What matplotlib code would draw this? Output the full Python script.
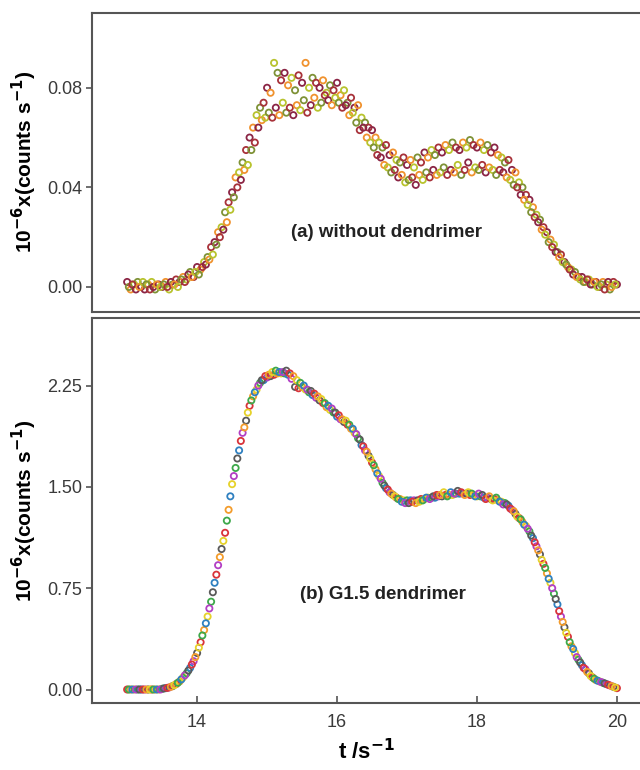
import numpy as np
import matplotlib
matplotlib.use("Agg")
import matplotlib.pyplot as plt

plt.rcParams['font.family'] = ['Liberation Sans', 'DejaVu Sans']

# sampling times (two interleaved runs)
T_RUN1 = [
    13.00, 13.05, 13.10, 13.15, 13.20, 13.25, 13.30, 13.35, 13.40, 13.45,
    13.50, 13.55, 13.60, 13.65, 13.70, 13.75, 13.80, 13.85, 13.90, 13.95,
    14.00, 14.05, 14.10, 14.15, 14.20, 14.25, 14.30, 14.35, 14.40, 14.45,
    14.50, 14.55, 14.60, 14.65, 14.70, 14.75, 14.80, 14.85, 14.90, 14.95,
    15.00, 15.05, 15.10, 15.15, 15.20, 15.25, 15.30, 15.35, 15.40, 15.45,
    15.50, 15.55, 15.60, 15.65, 15.70, 15.75, 15.80, 15.85, 15.90, 15.95,
    16.00, 16.05, 16.10, 16.15, 16.20, 16.25, 16.30, 16.35, 16.40, 16.45,
    16.50, 16.55, 16.60, 16.65, 16.70, 16.75, 16.80, 16.85, 16.90, 16.95,
    17.00, 17.05, 17.10, 17.15, 17.20, 17.25, 17.30, 17.35, 17.40, 17.45,
    17.50, 17.55, 17.60, 17.65, 17.70, 17.75, 17.80, 17.85, 17.90, 17.95,
    18.00, 18.05, 18.10, 18.15, 18.20, 18.25, 18.30, 18.35, 18.40, 18.45,
    18.50, 18.55, 18.60, 18.65, 18.70, 18.75, 18.80, 18.85, 18.90, 18.95,
    19.00, 19.05, 19.10, 19.15, 19.20, 19.25, 19.30, 19.35, 19.40, 19.45,
    19.50, 19.55, 19.60, 19.65, 19.70, 19.75, 19.80, 19.85, 19.90, 19.95,
    20.00,
]
T_RUN2 = [
    13.025, 13.075, 13.125, 13.175, 13.225, 13.275, 13.325, 13.375, 13.425, 13.475,
    13.525, 13.575, 13.625, 13.675, 13.725, 13.775, 13.825, 13.875, 13.925, 13.975,
    14.025, 14.075, 14.125, 14.175, 14.225, 14.275, 14.325, 14.375, 14.425, 14.475,
    14.525, 14.575, 14.625, 14.675, 14.725, 14.775, 14.825, 14.875, 14.925, 14.975,
    15.025, 15.075, 15.125, 15.175, 15.225, 15.275, 15.325, 15.375, 15.425, 15.475,
    15.525, 15.575, 15.625, 15.675, 15.725, 15.775, 15.825, 15.875, 15.925, 15.975,
    16.025, 16.075, 16.125, 16.175, 16.225, 16.275, 16.325, 16.375, 16.425, 16.475,
    16.525, 16.575, 16.625, 16.675, 16.725, 16.775, 16.825, 16.875, 16.925, 16.975,
    17.025, 17.075, 17.125, 17.175, 17.225, 17.275, 17.325, 17.375, 17.425, 17.475,
    17.525, 17.575, 17.625, 17.675, 17.725, 17.775, 17.825, 17.875, 17.925, 17.975,
    18.025, 18.075, 18.125, 18.175, 18.225, 18.275, 18.325, 18.375, 18.425, 18.475,
    18.525, 18.575, 18.625, 18.675, 18.725, 18.775, 18.825, 18.875, 18.925, 18.975,
    19.025, 19.075, 19.125, 19.175, 19.225, 19.275, 19.325, 19.375, 19.425, 19.475,
    19.525, 19.575, 19.625, 19.675, 19.725, 19.775, 19.825, 19.875, 19.925, 19.975,
]

# (a) without dendrimer
A_RUN1 = [
    0.002, -0.001, 0.001, 0.002, 0.000, -0.001, 0.001, 0.002, -0.001, 0.001,
    0.000, 0.002, -0.001, 0.001, 0.003, 0.002, 0.004, 0.003, 0.006, 0.004,
    0.008, 0.007, 0.010, 0.012, 0.016, 0.018, 0.022, 0.024, 0.030, 0.034,
    0.038, 0.044, 0.046, 0.050, 0.055, 0.060, 0.064, 0.069, 0.072, 0.074,
    0.080, 0.078, 0.090, 0.086, 0.083, 0.086, 0.081, 0.084, 0.079, 0.085,
    0.082, 0.090, 0.080, 0.084, 0.082, 0.080, 0.083, 0.078, 0.081, 0.079,
    0.082, 0.077, 0.079, 0.074, 0.076, 0.072, 0.073, 0.068, 0.066, 0.064,
    0.063, 0.060, 0.058, 0.056, 0.057, 0.053, 0.054, 0.051, 0.050, 0.052,
    0.049, 0.051, 0.048, 0.052, 0.050, 0.054, 0.052, 0.055, 0.053, 0.056,
    0.054, 0.057, 0.055, 0.058, 0.056, 0.055, 0.058, 0.056, 0.059, 0.057,
    0.056, 0.058, 0.055, 0.057, 0.054, 0.056, 0.053, 0.052, 0.050, 0.051,
    0.047, 0.046, 0.042, 0.040, 0.037, 0.035, 0.032, 0.029, 0.027, 0.024,
    0.022, 0.019, 0.017, 0.014, 0.013, 0.010, 0.008, 0.007, 0.006, 0.004,
    0.004, 0.002, 0.003, 0.001, 0.002, 0.000, 0.002, 0.001, -0.001, 0.002,
    0.001,
]
A_RUN2 = [
    0.000, 0.001, -0.001, 0.000, 0.002, 0.001, -0.001, 0.000, 0.001, 0.000,
    0.001, 0.000, 0.002, 0.001, 0.000, 0.003, 0.002, 0.005, 0.004, 0.006,
    0.005, 0.008, 0.009, 0.011, 0.013, 0.017, 0.020, 0.023, 0.026, 0.031,
    0.036, 0.040, 0.043, 0.047, 0.049, 0.055, 0.058, 0.064, 0.067, 0.068,
    0.070, 0.068, 0.072, 0.069, 0.074, 0.070, 0.072, 0.069, 0.073, 0.071,
    0.075, 0.070, 0.073, 0.076, 0.072, 0.074, 0.077, 0.075, 0.073, 0.076,
    0.074, 0.072, 0.073, 0.069, 0.070, 0.066, 0.063, 0.064, 0.060, 0.058,
    0.056, 0.053, 0.052, 0.049, 0.048, 0.046, 0.047, 0.044, 0.045, 0.042,
    0.043, 0.044, 0.041, 0.045, 0.043, 0.046, 0.044, 0.047, 0.045, 0.046,
    0.048, 0.045, 0.047, 0.046, 0.049, 0.045, 0.047, 0.050, 0.046, 0.048,
    0.047, 0.049, 0.046, 0.048, 0.047, 0.045, 0.047, 0.046, 0.044, 0.043,
    0.041, 0.040, 0.037, 0.035, 0.033, 0.030, 0.028, 0.026, 0.023, 0.021,
    0.018, 0.016, 0.014, 0.012, 0.010, 0.009, 0.007, 0.005, 0.004, 0.003,
    0.002, 0.003, 0.001, 0.002, 0.000, 0.001, -0.001, 0.002, 0.000, 0.001,
]

# (b) G1.5 dendrimer
B_RUN1 = [
    0.00, 0.00, 0.00, 0.00, 0.00, 0.00, 0.00, 0.00, 0.00, 0.00,
    0.005, 0.010, 0.015, 0.025, 0.040, 0.060, 0.090, 0.120, 0.160, 0.210,
    0.27, 0.35, 0.44, 0.54, 0.65, 0.79, 0.92, 1.04, 1.16, 1.33,
    1.52, 1.64, 1.77, 1.90, 1.99, 2.10, 2.17, 2.22, 2.27, 2.29,
    2.31, 2.32, 2.33, 2.34, 2.34, 2.34, 2.33, 2.30, 2.24, 2.23,
    2.24, 2.22, 2.20, 2.18, 2.16, 2.14, 2.12, 2.09, 2.07, 2.05,
    2.02, 2.00, 1.98, 1.96, 1.93, 1.90, 1.86, 1.81, 1.77, 1.73,
    1.68, 1.63, 1.58, 1.53, 1.49, 1.46, 1.44, 1.42, 1.41, 1.40,
    1.40, 1.40, 1.40, 1.40, 1.41, 1.41, 1.42, 1.42, 1.42, 1.43,
    1.43, 1.44, 1.44, 1.44, 1.45, 1.45, 1.45, 1.45, 1.44, 1.44,
    1.43, 1.43, 1.42, 1.42, 1.41, 1.41, 1.40, 1.39, 1.38, 1.36,
    1.33, 1.30, 1.27, 1.24, 1.21, 1.17, 1.12, 1.06, 1.00, 0.93,
    0.86, 0.79, 0.71, 0.63, 0.54, 0.46, 0.39, 0.32, 0.27, 0.22,
    0.18, 0.15, 0.12, 0.09, 0.07, 0.06, 0.05, 0.04, 0.03, 0.02,
    0.01,
]
B_RUN2 = [
    0.00, 0.00, 0.00, 0.00, 0.00, 0.00, 0.00, 0.00, 0.00, 0.00,
    0.008, 0.012, 0.020, 0.032, 0.050, 0.075, 0.105, 0.140, 0.185, 0.240,
    0.31, 0.40, 0.49, 0.60, 0.72, 0.85, 0.98, 1.10, 1.25, 1.43,
    1.58, 1.71, 1.84, 1.94, 2.05, 2.14, 2.20, 2.25, 2.29, 2.32,
    2.33, 2.35, 2.36, 2.35, 2.35, 2.36, 2.34, 2.32, 2.29, 2.27,
    2.25, 2.22, 2.21, 2.19, 2.17, 2.15, 2.12, 2.10, 2.08, 2.05,
    2.03, 2.00, 1.99, 1.96, 1.93, 1.89, 1.85, 1.80, 1.76, 1.71,
    1.66, 1.60, 1.56, 1.51, 1.48, 1.45, 1.43, 1.41, 1.39, 1.38,
    1.38, 1.39, 1.38, 1.39, 1.40, 1.42, 1.41, 1.43, 1.44, 1.44,
    1.46, 1.43, 1.46, 1.45, 1.47, 1.46, 1.44, 1.46, 1.45, 1.43,
    1.45, 1.44, 1.41, 1.43, 1.40, 1.42, 1.39, 1.37, 1.37, 1.34,
    1.32, 1.28, 1.26, 1.22, 1.19, 1.14, 1.09, 1.03, 0.96, 0.90,
    0.82, 0.75, 0.67, 0.58, 0.50, 0.42, 0.35, 0.30, 0.24, 0.20,
    0.16, 0.13, 0.10, 0.08, 0.065, 0.055, 0.045, 0.035, 0.025, 0.015,
]

A_COLORS = ['#8b2545', '#f0922e', '#b8c32e', '#7e9236', '#a8323a']
B_COLORS = ['#d9343a', '#f39c2c', '#e6d22a', '#3da84a', '#2f80c0', '#b23fc4', '#5a5a5a']

A_TICKS = [0.00, 0.04, 0.08]
B_TICKS = [0.00, 0.75, 1.50, 2.25]
X_TICKS = [14, 16, 18, 20]

SPINE = '#555555'
TICKTXT = '#3a3a3a'


def draw_runs(ax, runs, colors):
    k = 0
    for t, y in runs:
        cols = [colors[(k + i) % len(colors)] for i in range(len(t))]
        ax.scatter(t, y, s=20, facecolors='none', edgecolors=cols,
                   linewidths=1.3, zorder=3)
        k += 3


def style_axis(ax):
    for side in ['left', 'top', 'bottom']:
        ax.spines[side].set_color(SPINE)
        ax.spines[side].set_linewidth(1.5)
    ax.spines['right'].set_visible(False)
    ax.tick_params(axis='y', direction='out', length=4, width=1.2,
                   colors=SPINE, labelcolor=TICKTXT, labelsize=13, pad=3)


fig = plt.figure(figsize=(6.4, 7.7), dpi=100)
ax_a = fig.add_axes([0.144, 0.595, 0.856, 0.388])
ax_b = fig.add_axes([0.144, 0.087, 0.856, 0.500])

draw_runs(ax_a, [(T_RUN1, A_RUN1), (T_RUN2, A_RUN2)], A_COLORS)
draw_runs(ax_b, [(T_RUN1, B_RUN1), (T_RUN2, B_RUN2)], B_COLORS)

for ax in (ax_a, ax_b):
    style_axis(ax)
    ax.set_xlim(12.5, 20.33)

ax_a.set_ylim(-0.01, 0.11)
ax_a.set_yticks(A_TICKS)
ax_a.set_yticklabels([f'{v:.2f}' for v in A_TICKS])
ax_a.set_xticks([])

ax_b.set_ylim(-0.10, 2.75)
ax_b.set_yticks(B_TICKS)
ax_b.set_yticklabels(['0.00', '0.75', '1.50', '2.25'])
ax_b.set_xticks(X_TICKS)
ax_b.tick_params(axis='x', direction='in', length=5, width=1.2,
                 colors=SPINE, labelcolor=TICKTXT, labelsize=13, pad=8)

ylab = r'10$^{\mathbf{-6}}$x(counts s$^{\mathbf{-1}}$)'
ax_a.set_ylabel(ylab, fontsize=15, fontweight='bold', labelpad=6)
ax_b.set_ylabel(ylab, fontsize=15, fontweight='bold', labelpad=6)
ax_b.set_xlabel(r't /s$^{\mathbf{-1}}$', fontsize=16, fontweight='bold', labelpad=6)

ax_a.text(16.71, 0.022, '(a) without dendrimer', fontsize=13.5, fontweight='bold',
          ha='center', va='center', color='#222222')
ax_b.text(16.66, 0.70, '(b) G1.5 dendrimer', fontsize=13.5, fontweight='bold',
          ha='center', va='center', color='#222222')

fig.savefig('out.png', dpi=100)
